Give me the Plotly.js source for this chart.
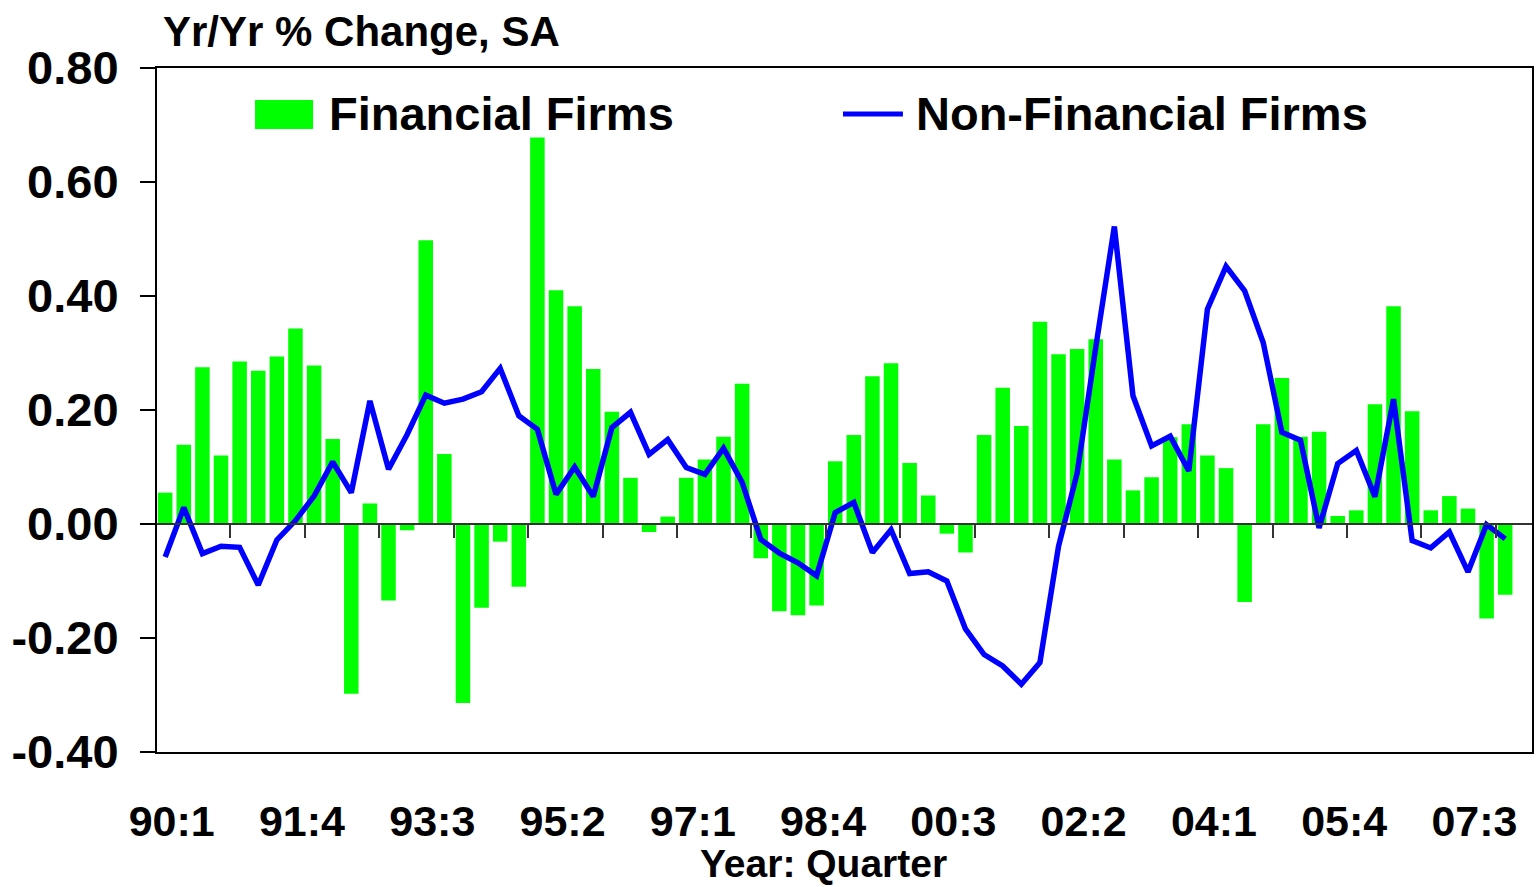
<!DOCTYPE html>
<html>
<head>
<meta charset="utf-8">
<script src="https://cdn.plot.ly/plotly-3.0.1.min.js"></script>
<style>html,body{margin:0;padding:0;background:#fff;}#chart{width:1537px;height:887px;}</style>
</head>
<body>
<div id="chart"></div>
<script>
// Quarters (Year:Quarter)
const quarters = [
 "90:1","90:2","90:3","90:4","91:1","91:2","91:3","91:4","92:1","92:2","92:3","92:4",
 "93:1","93:2","93:3","93:4","94:1","94:2","94:3","94:4","95:1","95:2","95:3","95:4",
 "96:1","96:2","96:3","96:4","97:1","97:2","97:3","97:4","98:1","98:2","98:3","98:4",
 "99:1","99:2","99:3","99:4","00:1","00:2","00:3","00:4","01:1","01:2","01:3","01:4",
 "02:1","02:2","02:3","02:4","03:1","03:2","03:3","03:4","04:1","04:2","04:3","04:4",
 "05:1","05:2","05:3","05:4","06:1","06:2","06:3","06:4","07:1","07:2","07:3","07:4",
 "08:1"
];

// Financial Firms (bars), Yr/Yr % change
const financialFirms = [
 0.055, 0.139, 0.275, 0.120, 0.285, 0.269, 0.294, 0.343, 0.278, 0.149,
 -0.298, 0.036, -0.134, -0.011, 0.498, 0.123, -0.314, -0.147, -0.031, -0.110,
 0.678, 0.410, 0.382, 0.272, 0.197, 0.081, -0.014, 0.013, 0.081, 0.113,
 0.153, 0.246, -0.060, -0.153, -0.160, -0.143, 0.110, 0.156, 0.259, 0.282,
 0.107, 0.050, -0.017, -0.050, 0.156, 0.239, 0.172, 0.355, 0.298, 0.307,
 0.324, 0.113, 0.059, 0.082, 0.152, 0.175, 0.120, 0.098, -0.137, 0.175,
 0.256, 0.153, 0.162, 0.014, 0.024, 0.210, 0.382, 0.198, 0.024, 0.049,
 0.027, -0.166, -0.124
];

// Non-Financial Firms (line), Yr/Yr % change
const nonFinancialFirms = [
 -0.058, 0.029, -0.052, -0.039, -0.041, -0.107, -0.028, 0.006, 0.049, 0.109,
 0.055, 0.216, 0.096, 0.157, 0.226, 0.212, 0.219, 0.232, 0.273, 0.190,
 0.166, 0.052, 0.100, 0.048, 0.169, 0.196, 0.122, 0.148, 0.099, 0.087,
 0.133, 0.073, -0.027, -0.051, -0.068, -0.091, 0.020, 0.038, -0.050, -0.010,
 -0.087, -0.084, -0.100, -0.184, -0.229, -0.249, -0.281, -0.243, -0.039, 0.089,
 0.310, 0.522, 0.225, 0.137, 0.154, 0.093, 0.377, 0.452, 0.409, 0.318,
 0.161, 0.147, -0.007, 0.106, 0.129, 0.048, 0.219, -0.029, -0.042, -0.014,
 -0.084, -0.001, -0.026
];

// Labelled quarters on the x axis
const tickLabels = ["90:1","91:4","93:3","95:2","97:1","98:4","00:3","02:2","04:1","05:4","07:3"];
// Y axis ticks and their labels (plain hyphen minus, as in the reference)
const yTicks = [-0.40, -0.20, 0.00, 0.20, 0.40, 0.60, 0.80];
const yTickLabels = ["-0.40", "-0.20", "0.00", "0.20", "0.40", "0.60", "0.80"];

const FONT = "Liberation Sans, Arial, Helvetica, sans-serif";
const idx = quarters.map((q, i) => i);
const labelVals = tickLabels.map(l => quarters.indexOf(l) + 0.35);
const yearBoundaries = quarters.map((q, i) => q.endsWith(":4") ? i + 0.5 : null).filter(v => v !== null);
const xRange = [-0.44, 73.44];
const yRange = [-0.4, 0.8];

const traces = [
  {
    type: "bar", name: "Financial Firms", x: idx, y: financialFirms,
    hovertext: quarters, hoverinfo: "text+y", textposition: "none",
    width: 0.78, marker: {color: "#00ff00", line: {width: 0}}
  },
  {
    type: "scatter", mode: "lines", name: "Non-Financial Firms", x: idx, y: nonFinancialFirms,
    hovertext: quarters, hoverinfo: "text+y",
    line: {color: "#0000ff", width: 5.5}
  },
  // invisible trace to carry the zero axis with year ticks
  {type: "scatter", x: [], y: [], xaxis: "x2", showlegend: false, hoverinfo: "skip"}
];

const ann = (text, x, y, size, xanchor, yanchor) => ({
  text: text, x: x, y: y, xref: "paper", yref: "paper",
  xanchor: xanchor, yanchor: yanchor, showarrow: false, borderpad: 0,
  font: {family: FONT, size: size, color: "#000", weight: 700}
});

const layout = {
  width: 1537, height: 887,
  margin: {l: 157, r: 5, t: 68, b: 135, pad: 0},
  paper_bgcolor: "#fff", plot_bgcolor: "#fff",
  showlegend: false,
  font: {family: FONT, color: "#000", weight: 700},
  xaxis: {
    range: xRange, type: "linear",
    showgrid: false, zeroline: false,
    showline: true, mirror: true, linecolor: "#000", linewidth: 2,
    tickmode: "array", tickvals: labelVals, ticktext: tickLabels,
    ticks: "", ticklabelstandoff: 30,
    tickfont: {family: FONT, size: 43, color: "#000", weight: 700}
  },
  xaxis2: {
    range: xRange, type: "linear", overlaying: "x", anchor: "free",
    position: (0 - yRange[0]) / (yRange[1] - yRange[0]),
    showgrid: false, zeroline: false,
    showline: true, linecolor: "#333", linewidth: 2,
    tickmode: "array", tickvals: yearBoundaries,
    ticks: "outside", ticklen: 13, tickwidth: 2, tickcolor: "#333",
    showticklabels: false
  },
  yaxis: {
    range: yRange, showgrid: false, zeroline: false,
    showline: true, mirror: true, linecolor: "#000", linewidth: 2,
    tickmode: "array", tickvals: yTicks, ticktext: yTickLabels,
    ticks: "outside", ticklen: 15, tickwidth: 2, tickcolor: "#000",
    ticklabelstandoff: 12,
    tickfont: {family: FONT, size: 47, color: "#000", weight: 700}
  },
  shapes: [
    {type: "rect", xref: "paper", yref: "paper", x0: 0.0713, x1: 0.1135, y0: 0.9108, y1: 0.9532,
     fillcolor: "#00ff00", line: {width: 0}},
    {type: "line", xref: "paper", yref: "paper", x0: 0.4989, x1: 0.5425, y0: 0.9327, y1: 0.9327,
     line: {color: "#0000ff", width: 5}}
  ],
  annotations: [
    ann("Yr/Yr % Change, SA", 0.0036, 1.054, 42, "left", "middle"),
    ann("Financial Firms", 0.1244, 0.933, 47, "left", "middle"),
    ann("Non-Financial Firms", 0.5513, 0.933, 47, "left", "middle"),
    ann("Year: Quarter", 0.4844, -0.163, 39, "center", "middle")
  ]
};

Plotly.newPlot("chart", traces, layout, {displayModeBar: false, staticPlot: true});
</script>
</body>
</html>
